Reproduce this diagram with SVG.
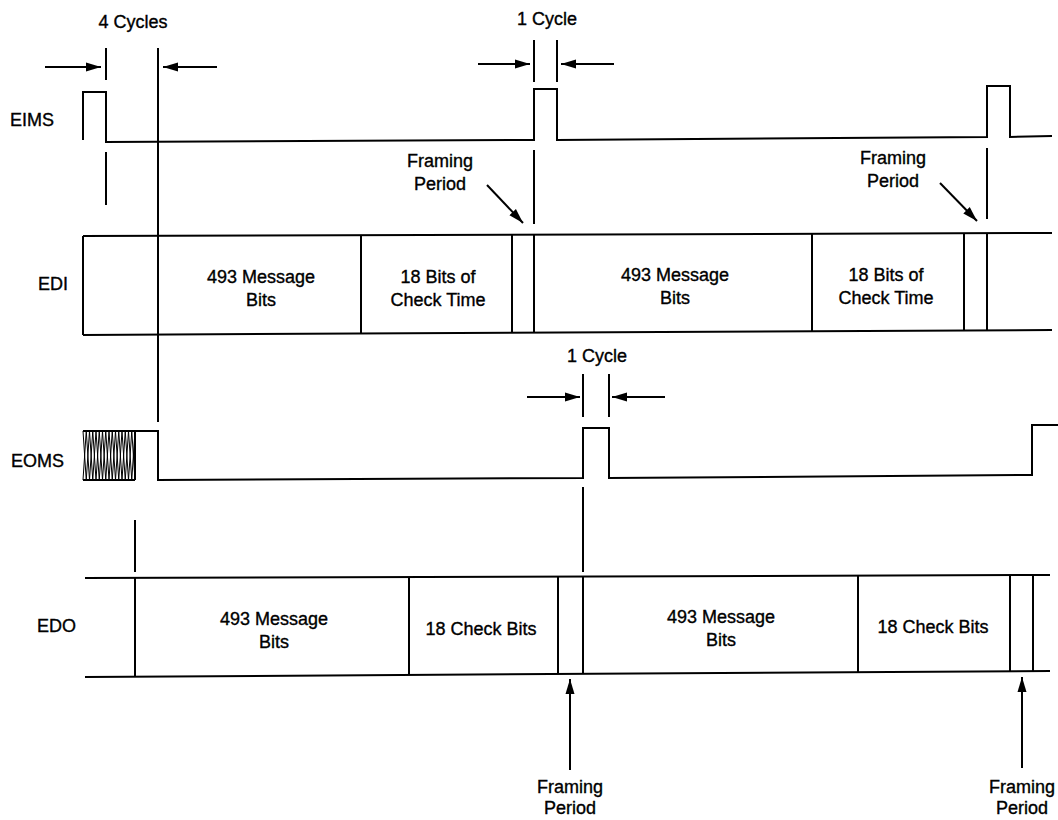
<svg xmlns="http://www.w3.org/2000/svg" width="1058" height="820" viewBox="0 0 1058 820">
<style>
text{font-family:"Liberation Sans",Arial,sans-serif;font-size:18px;fill:#000;stroke:#000;stroke-width:0.35}
.c{text-anchor:middle}
.w{fill:none;stroke:#000;stroke-width:2}
.t{fill:none;stroke:#000;stroke-width:1}
</style>
<defs>
<marker id="ah" markerUnits="userSpaceOnUse" markerWidth="16" markerHeight="10" refX="15" refY="5" orient="auto">
<path d="M0,0.5 L15,5 L0,9.5 z" fill="#000"/>
</marker>
</defs>
<rect width="1058" height="820" fill="#fff"/>

<g id="labels">
<text x="10" y="126">EIMS</text>
<text x="38" y="290">EDI</text>
<text x="11" y="467">EOMS</text>
<text x="37" y="632">EDO</text>
<text class="c" x="133" y="28">4 Cycles</text>
<text class="c" x="547" y="25">1 Cycle</text>
<text class="c" x="597" y="362">1 Cycle</text>
<text class="c" x="440" y="167">Framing</text>
<text class="c" x="440" y="190">Period</text>
<text class="c" x="893" y="164">Framing</text>
<text class="c" x="893" y="187">Period</text>
<text class="c" x="570" y="793">Framing</text>
<text class="c" x="570" y="814">Period</text>
<text class="c" x="1022" y="793">Framing</text>
<text class="c" x="1022" y="814">Period</text>
</g>

<g id="eims">
<polyline class="w" points="83,140 83,92 106,92 106,142 534,140 534,89 557,89 557,140 987,137 987,86 1010,86 1010,137 1052,136"/>
</g>

<g id="edi">
<line class="w" x1="83" y1="236" x2="1052" y2="233"/>
<line class="w" x1="83" y1="335" x2="1052" y2="330"/>
<line class="w" x1="83" y1="236" x2="83" y2="335"/>
<line class="w" x1="361" y1="235" x2="361" y2="334"/>
<line class="w" x1="512" y1="235" x2="512" y2="333"/>
<line class="w" x1="534" y1="235" x2="534" y2="333"/>
<line class="w" x1="812" y1="234" x2="812" y2="332"/>
<line class="w" x1="964" y1="234" x2="964" y2="331"/>
<line class="w" x1="987" y1="234" x2="987" y2="331"/>
<text class="c" x="261" y="283">493 Message</text>
<text class="c" x="261" y="306">Bits</text>
<text class="c" x="438" y="283">18 Bits of</text>
<text class="c" x="438" y="306">Check Time</text>
<text class="c" x="675" y="281">493 Message</text>
<text class="c" x="675" y="304">Bits</text>
<text class="c" x="886" y="281">18 Bits of</text>
<text class="c" x="886" y="304">Check Time</text>
</g>

<g id="eoms">
<polyline class="t" points="83,431 86.25,480 89.5,431 92.75,480 96,431 99.25,480 102.5,431 105.75,480 109,431 112.25,480 115.5,431 118.75,480 122,431 125.25,480 128.5,431 131.75,480 135,431"/>
<polyline class="t" points="83,480 86.25,431 89.5,480 92.75,431 96,480 99.25,431 102.5,480 105.75,431 109,480 112.25,431 115.5,480 118.75,431 122,480 125.25,431 128.5,480 131.75,431 135,480"/>
<line class="w" x1="83" y1="480" x2="135" y2="480"/>
<line class="w" x1="135" y1="431" x2="135" y2="480"/>
<polyline class="w" points="83,431 158,431 158,480 583,478 583,428 609,428 609,478 1032,475 1032,425 1058,425"/>
</g>

<g id="edo">
<line class="w" x1="85" y1="578" x2="1050" y2="575"/>
<line class="w" x1="85" y1="677" x2="1050" y2="671"/>
<line class="w" x1="135" y1="578" x2="135" y2="677"/>
<line class="w" x1="409" y1="577" x2="409" y2="675"/>
<line class="w" x1="558" y1="577" x2="558" y2="674"/>
<line class="w" x1="583" y1="577" x2="583" y2="674"/>
<line class="w" x1="858" y1="576" x2="858" y2="673"/>
<line class="w" x1="1010" y1="575" x2="1010" y2="672"/>
<line class="w" x1="1033" y1="575" x2="1033" y2="672"/>
<text class="c" x="274" y="625">493 Message</text>
<text class="c" x="274" y="648">Bits</text>
<text class="c" x="481" y="635">18 Check Bits</text>
<text class="c" x="721" y="623">493 Message</text>
<text class="c" x="721" y="646">Bits</text>
<text class="c" x="933" y="633">18 Check Bits</text>
</g>

<g id="connectors">
<line class="w" x1="106" y1="48" x2="106" y2="80"/>
<line class="w" x1="158" y1="48" x2="158" y2="422"/>
<line class="w" x1="45" y1="67" x2="101" y2="67" marker-end="url(#ah)"/>
<line class="w" x1="217" y1="67" x2="163" y2="67" marker-end="url(#ah)"/>
<line class="w" x1="534" y1="40" x2="534" y2="82"/>
<line class="w" x1="557" y1="40" x2="557" y2="82"/>
<line class="w" x1="478" y1="64" x2="530" y2="64" marker-end="url(#ah)"/>
<line class="w" x1="614" y1="64" x2="561" y2="64" marker-end="url(#ah)"/>
<line class="w" x1="106" y1="152" x2="106" y2="205"/>
<line class="w" x1="534" y1="150" x2="534" y2="224"/>
<line class="w" x1="987" y1="148" x2="987" y2="219"/>
<line class="w" x1="487" y1="185" x2="523" y2="223" marker-end="url(#ah)"/>
<line class="w" x1="940" y1="183" x2="977" y2="221" marker-end="url(#ah)"/>
<line class="w" x1="583" y1="374" x2="583" y2="417"/>
<line class="w" x1="609" y1="374" x2="609" y2="417"/>
<line class="w" x1="527" y1="397" x2="580" y2="397" marker-end="url(#ah)"/>
<line class="w" x1="665" y1="397" x2="612" y2="397" marker-end="url(#ah)"/>
<line class="w" x1="135" y1="520" x2="135" y2="572"/>
<line class="w" x1="583" y1="487" x2="583" y2="572"/>
<line class="w" x1="570" y1="770" x2="570" y2="679" marker-end="url(#ah)"/>
<line class="w" x1="1022" y1="768" x2="1022" y2="677" marker-end="url(#ah)"/>
</g>
</svg>
